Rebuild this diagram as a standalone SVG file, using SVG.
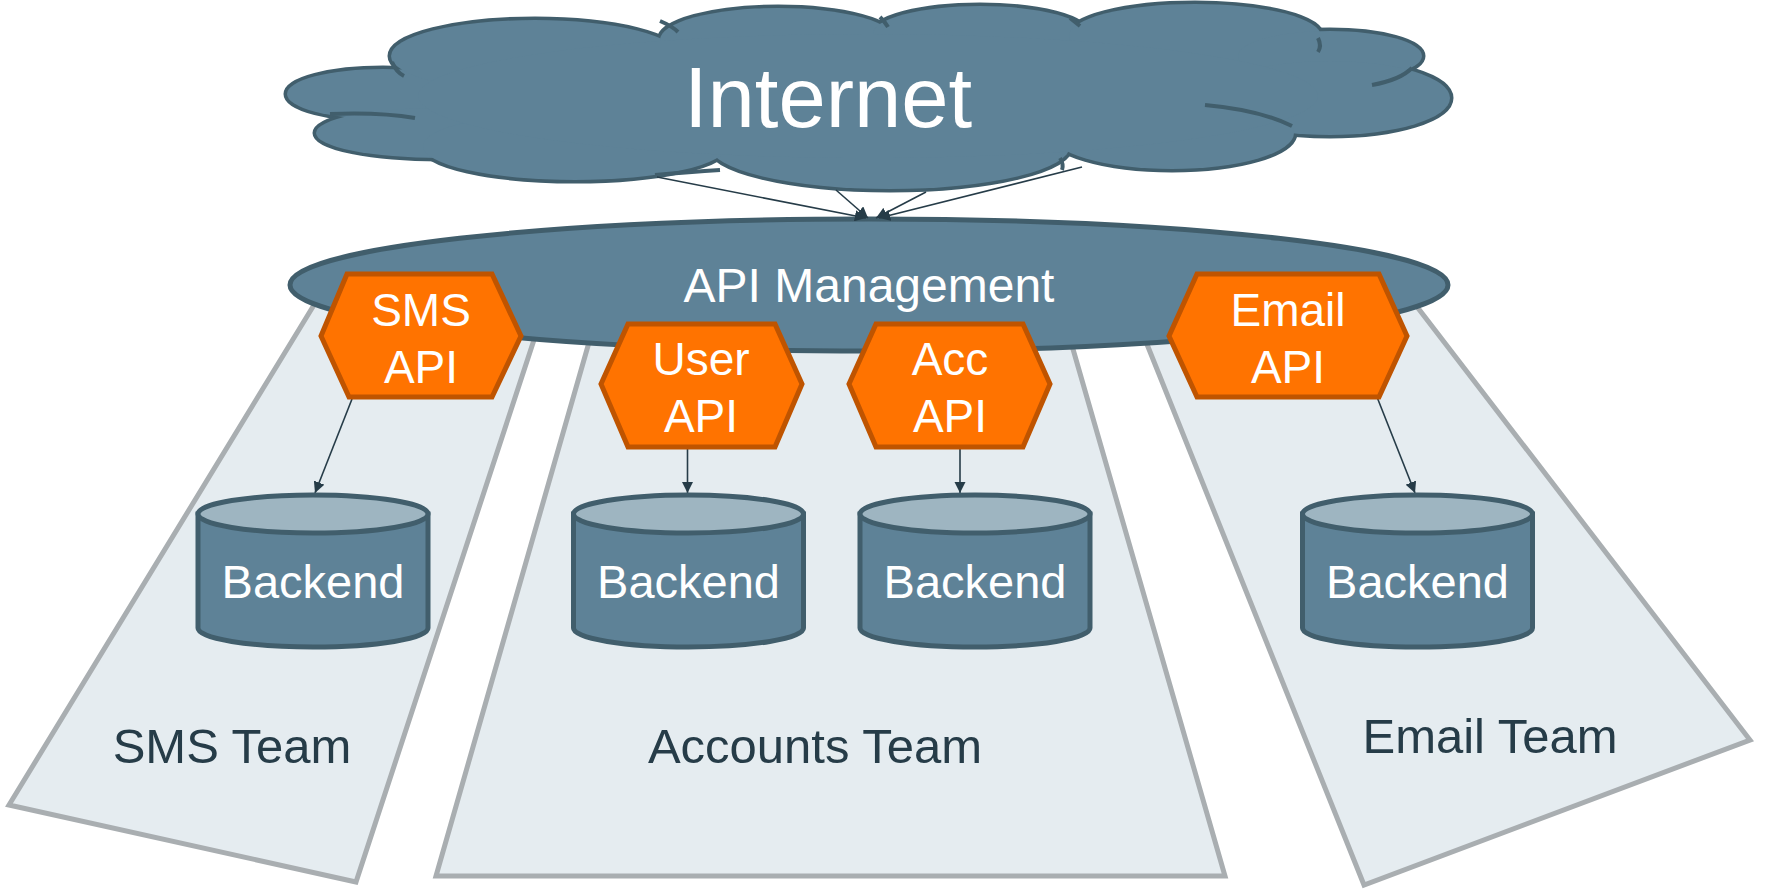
<svg xmlns="http://www.w3.org/2000/svg" width="1767" height="890" viewBox="0 0 1767 890">
<style>
.team{fill:#e5ecf0;stroke:#a9aeb1;stroke-width:5;stroke-linejoin:miter}
.teamtxt{font-family:"Liberation Sans",Arial,sans-serif;font-size:49px;fill:#263c48;text-anchor:middle}
.wt{font-family:"Liberation Sans",Arial,sans-serif;fill:#ffffff;text-anchor:middle}
.hex{fill:#ff7300;stroke:#bf5400;stroke-width:5;stroke-linejoin:miter}
.cylbody{fill:#5e8297;stroke:#415e6c;stroke-width:5}
.cyltop{fill:#9eb5c1;stroke:#415e6c;stroke-width:5}
.cloudS{fill:#415e6c;stroke:#415e6c;stroke-width:7}
.cloudF{fill:#5e8297}
.arc{fill:none;stroke:#415e6c;stroke-width:4}
.conn{stroke:#263c48;stroke-width:1.6;fill:none;marker-end:url(#ah)}
</style>
<defs>
<marker id="ah" viewBox="0 0 10 10" refX="10" refY="5" markerWidth="7" markerHeight="7" markerUnits="strokeWidth" orient="auto">
<path d="M0,0 L10,5 L0,10 z" fill="#263c48"/>
</marker>
</defs>
<rect width="1767" height="890" fill="#ffffff"/>

<g id="team-sms">
<polygon class="team" points="328,282 9,805 356,882 553,282"/>
<text class="teamtxt" x="232" y="763">SMS Team</text>
</g>
<g id="team-accounts">
<polygon class="team" points="600,304 436,876 1225,876 1060,304"/>
<text class="teamtxt" x="815" y="763">Accounts Team</text>
</g>
<g id="team-email">
<polygon class="team" points="1122,282 1364,885 1750,740 1398,282"/>
<text class="teamtxt" x="1490" y="753">Email Team</text>
</g>

<g id="internet">
<g>
<ellipse class="cloudS" cx="383" cy="94" rx="96" ry="25"/>
<ellipse class="cloudS" cx="440" cy="133" rx="124" ry="25"/>
<ellipse class="cloudS" cx="535" cy="56" rx="144" ry="36"/>
<ellipse class="cloudS" cx="778" cy="40" rx="118" ry="32"/>
<ellipse class="cloudS" cx="980" cy="34" rx="107" ry="28"/>
<ellipse class="cloudS" cx="1195" cy="36" rx="126" ry="32"/>
<ellipse class="cloudS" cx="1330" cy="56" rx="92" ry="25"/>
<ellipse class="cloudS" cx="1330" cy="98" rx="120" ry="37"/>
<ellipse class="cloudS" cx="1172" cy="133" rx="122" ry="36"/>
<ellipse class="cloudS" cx="890" cy="146" rx="180" ry="43"/>
<ellipse class="cloudS" cx="575" cy="146" rx="152" ry="34"/>
</g>
<g>
<ellipse class="cloudF" cx="383" cy="94" rx="96" ry="25"/>
<ellipse class="cloudF" cx="440" cy="133" rx="124" ry="25"/>
<ellipse class="cloudF" cx="535" cy="56" rx="144" ry="36"/>
<ellipse class="cloudF" cx="778" cy="40" rx="118" ry="32"/>
<ellipse class="cloudF" cx="980" cy="34" rx="107" ry="28"/>
<ellipse class="cloudF" cx="1195" cy="36" rx="126" ry="32"/>
<ellipse class="cloudF" cx="1330" cy="56" rx="92" ry="25"/>
<ellipse class="cloudF" cx="1330" cy="98" rx="120" ry="37"/>
<ellipse class="cloudF" cx="1172" cy="133" rx="122" ry="36"/>
<ellipse class="cloudF" cx="890" cy="146" rx="180" ry="43"/>
<ellipse class="cloudF" cx="575" cy="146" rx="152" ry="34"/>
<ellipse class="cloudF" cx="868" cy="96" rx="450" ry="62"/>
</g>
<path class="arc" d="M330,114 Q380,112 415,118"/>
<path class="arc" d="M392,62 Q396,72 404,76"/>
<path class="arc" d="M660,21 Q672,26 678,32"/>
<path class="arc" d="M880,17 Q885,22 888,27"/>
<path class="arc" d="M1070,18 Q1075,22 1080,26"/>
<path class="arc" d="M1318,38 Q1322,46 1318,52"/>
<path class="arc" d="M1372,85 Q1400,80 1412,68"/>
<path class="arc" d="M1205,105 Q1260,110 1292,126"/>
<path class="arc" d="M655,175 Q690,172 720,170"/>
<path class="arc" d="M1060,158 Q1064,164 1062,170"/>
<text class="wt" x="828" y="127" font-size="85">Internet</text>
</g>

<g id="api-management">
<ellipse cx="869" cy="285" rx="579" ry="66" fill="#5e8297" stroke="#415e6c" stroke-width="5"/>
<text class="wt" x="869" y="302" font-size="48">API Management</text>
</g>

<g id="connectors">
<line class="conn" x1="657" y1="177" x2="866" y2="218"/>
<line class="conn" x1="836" y1="190" x2="868" y2="218"/>
<line class="conn" x1="926" y1="192" x2="876" y2="218"/>
<line class="conn" x1="1082" y1="167" x2="879" y2="218"/>
<line class="conn" x1="352" y1="399" x2="315" y2="493"/>
<line class="conn" x1="687.5" y1="447" x2="687.5" y2="493"/>
<line class="conn" x1="960" y1="443" x2="960" y2="493"/>
<line class="conn" x1="1377" y1="397" x2="1415" y2="493"/>
</g>

<g id="sms-api">
<polygon class="hex" points="321,336 347,274 492,274 521,336 492,397 349,397"/>
<text class="wt" x="421" y="326" font-size="46">SMS</text>
<text class="wt" x="421" y="383" font-size="46">API</text>
</g>
<g id="user-api">
<polygon class="hex" points="601,384 628,324 775,324 802,384 775,447 628,447"/>
<text class="wt" x="701" y="375" font-size="46">User</text>
<text class="wt" x="701" y="432" font-size="46">API</text>
</g>
<g id="acc-api">
<polygon class="hex" points="849,384 876,324 1023,324 1050,384 1023,447 876,447"/>
<text class="wt" x="950" y="375" font-size="46">Acc</text>
<text class="wt" x="950" y="432" font-size="46">API</text>
</g>
<g id="email-api">
<polygon class="hex" points="1169,336 1197,274 1379,274 1407,336 1379,397 1197,397"/>
<text class="wt" x="1288" y="326" font-size="46">Email</text>
<text class="wt" x="1288" y="383" font-size="46">API</text>
</g>

<g id="backend-sms">
<path class="cylbody" d="M198,514 L198,628 A115,19 0 0 0 428,628 L428,514 z"/>
<ellipse class="cyltop" cx="313" cy="514" rx="115" ry="19"/>
<text class="wt" x="313" y="598" font-size="47">Backend</text>
</g>
<g id="backend-user">
<path class="cylbody" d="M573.5,514 L573.5,628 A115,19 0 0 0 803.5,628 L803.5,514 z"/>
<ellipse class="cyltop" cx="688.5" cy="514" rx="115" ry="19"/>
<text class="wt" x="688.5" y="598" font-size="47">Backend</text>
</g>
<g id="backend-acc">
<path class="cylbody" d="M860,514 L860,628 A115,19 0 0 0 1090,628 L1090,514 z"/>
<ellipse class="cyltop" cx="975" cy="514" rx="115" ry="19"/>
<text class="wt" x="975" y="598" font-size="47">Backend</text>
</g>
<g id="backend-email">
<path class="cylbody" d="M1302.5,514 L1302.5,628 A115,19 0 0 0 1532.5,628 L1532.5,514 z"/>
<ellipse class="cyltop" cx="1417.5" cy="514" rx="115" ry="19"/>
<text class="wt" x="1417.5" y="598" font-size="47">Backend</text>
</g>
</svg>
